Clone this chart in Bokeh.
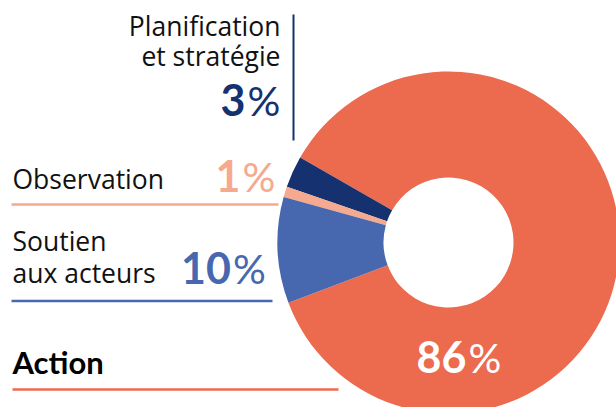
import numpy as np
from bokeh.plotting import figure
from bokeh.models import ColumnDataSource, Range1d
from bokeh.core.properties import value
from bokeh.embed import file_html
from bokeh.resources import INLINE

# ---- data ----
categories = ["Action", "Planification et stratégie", "Observation", "Soutien aux acteurs"]
shares = [86, 3, 1, 10]
colors = ["#EC6A4E", "#15316F", "#F5A98E", "#4767AE"]
pct_text = ["86", "3", "1", "10"]

W, H = 616, 407
LABEL_FONT = value("Open Sans")
NUM_FONT = value("Lato")

p = figure(width=W, height=H, output_backend="svg", toolbar_location=None,
           x_range=Range1d(0, W), y_range=Range1d(0, H), min_border=0)
p.axis.visible = False
p.grid.visible = False
p.outline_line_color = None
p.background_fill_color = None
p.border_fill_color = None

def X(sx):
    return sx

def Y(sy):
    return H - sy

# ---- donut ----
vals = np.array(shares, dtype=float)
start0 = np.deg2rad(200.6)
cum = np.concatenate([[0], np.cumsum(vals)]) / vals.sum() * 2 * np.pi
src = ColumnDataSource(dict(
    x=[X(448)] * len(vals), y=[Y(242)] * len(vals),
    start=list(start0 + cum[:-1]), end=list(start0 + cum[1:]),
    color=colors, cat=categories,
))
p.annular_wedge(x="x", y="y", inner_radius=65, outer_radius=171,
                start_angle="start", end_angle="end", fill_color="color",
                line_color=None, source=src)

# ---- label rules ----
p.segment(x0=[X(293)], y0=[Y(14)], x1=[X(293)], y1=[Y(140)], line_color=colors[1], line_width=2)
p.segment(x0=[X(11)], y0=[Y(204)], x1=[X(278)], y1=[Y(204)], line_color=colors[2], line_width=2.5)
p.segment(x0=[X(11)], y0=[Y(300.5)], x1=[X(272)], y1=[Y(300.5)], line_color=colors[3], line_width=2.5)
p.segment(x0=[X(12)], y0=[Y(389)], x1=[X(338)], y1=[Y(389)], line_color=colors[0], line_width=2.5)

# ---- texts ----
def txt(sx, sy, s, size, font, color="#111111", align="left", style="normal"):
    # sy is the wanted baseline on screen; shift for the renderer's baseline offset
    p.text(x=[X(sx)], y=[Y(sy - 0.37 * size)], text=[s], text_font=font,
           text_font_size=f"{size}px", text_color=color, text_align=align,
           text_baseline="alphabetic", text_font_style=style)

txt(280, 35, "Planification", 26.5, LABEL_FONT, align="right")
txt(280, 65, "et stratégie", 26.5, LABEL_FONT, align="right")
txt(12, 188, "Observation", 26.5, LABEL_FONT)
txt(12, 250, "Soutien", 26.5, LABEL_FONT)
txt(12, 282, "aux acteurs", 26.5, LABEL_FONT)
txt(12, 373, "Action", 31, NUM_FONT, color="#000000", style="bold")

pct_pos = [(467, 372), (246, 115), (241, 191), (231.5, 283)]
pct_colors = ["#FFFFFF", colors[1], colors[2], colors[3]]
for (sx, sy), t, c in zip(pct_pos, pct_text, pct_colors):
    txt(sx - 1, sy, t, 43, NUM_FONT, color=c, align="right", style="bold")
    txt(sx + 1, sy, "%", 41, NUM_FONT, color=c, align="left")

open("out.html", "w").write(file_html(p, INLINE))
